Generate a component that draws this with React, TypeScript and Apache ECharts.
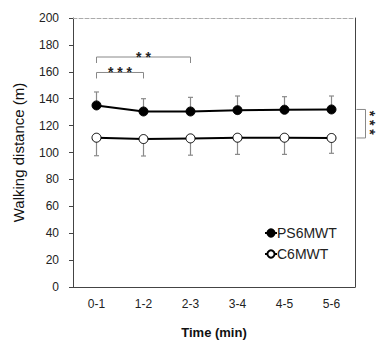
import React, { useEffect, useRef } from "react";
import * as echarts from "echarts";

const categories = ["0-1", "1-2", "2-3", "3-4", "4-5", "5-6"];
const ps6mwt = [135, 130.5, 130.5, 131.5, 131.8, 132];
const ps6mwtUpper = [145, 140, 141, 142, 141.5, 142];
const c6mwt = [111, 110, 110.5, 111, 111, 110.8];
const c6mwtLower = [97.6, 97.4, 98, 98.6, 98.6, 99.4];
// significance brackets: [startIndex, endIndex, yValue, label]
const brackets: [number, number, number, string][] = [
  [0, 1, 159.5, "* * *"],
  [0, 2, 171, "* *"],
];
const sideLabel = "* * *";
const yTicks = { min: 0, max: 200, interval: 20 };

const FONT = "'Liberation Sans', Arial, sans-serif";

export default function App() {
  const ref = useRef<HTMLDivElement>(null);
  useEffect(() => {
    if (!ref.current) return;
    const chart = echarts.init(ref.current, undefined, { renderer: "svg" });
    const errData = [
      ...ps6mwt.map((v, i) => [i, v, ps6mwtUpper[i]]),
      ...c6mwt.map((v, i) => [i, v, c6mwtLower[i]]),
    ];
    const last = categories.length - 1;
    chart.setOption({
      animation: false,
      textStyle: { fontFamily: FONT },
      grid: { left: 73, right: 21, top: 18, bottom: 53, outerBoundsMode: "none", containLabel: false },
      legend: {
        orient: "vertical",
        left: 259,
        top: 221,
        itemWidth: 12,
        itemHeight: 9,
        itemGap: 7,
        textStyle: { fontSize: 14, color: "#222", fontFamily: FONT, padding: [0, 0, 0, -5] },
        data: ["PS6MWT", "C6MWT"],
      },
      xAxis: [
        {
          type: "category",
          data: categories,
          boundaryGap: true,
          axisLine: { onZero: false, lineStyle: { color: "#444", width: 1 } },
          axisTick: { alignWithLabel: true, length: 4, lineStyle: { color: "#444" } },
          axisLabel: { color: "#222", fontSize: 12, margin: 11, fontFamily: FONT },
          name: "Time (min)",
          nameLocation: "middle",
          nameGap: 39,
          nameTextStyle: { fontSize: 13, fontWeight: "bold", color: "#111", fontFamily: FONT },
        },
        {
          type: "category",
          data: categories,
          position: "top",
          axisLine: { show: true, onZero: false, lineStyle: { color: "#aaa", type: "dashed", width: 1 } },
          axisTick: { show: false },
          axisLabel: { show: false },
        },
      ],
      yAxis: [
        {
          type: "value",
          min: yTicks.min,
          max: yTicks.max,
          interval: yTicks.interval,
          axisLine: { show: true, onZero: false, lineStyle: { color: "#444", width: 1 } },
          axisTick: { show: true, length: 4, lineStyle: { color: "#444" } },
          splitLine: { show: false },
          axisLabel: { color: "#222", fontSize: 12, margin: 14, fontFamily: FONT },
          name: "Walking distance (m)",
          nameLocation: "middle",
          nameGap: 47,
          nameTextStyle: { fontSize: 15, color: "#111", fontFamily: FONT },
        },
        {
          type: "value",
          min: yTicks.min,
          max: yTicks.max,
          interval: yTicks.interval,
          position: "right",
          axisLine: { show: true, onZero: false, lineStyle: { color: "#444", width: 1 } },
          axisTick: { show: false },
          axisLabel: { show: false },
          splitLine: { show: false },
        },
      ],
      series: [
        {
          type: "custom",
          name: "err",
          z: 1,
          silent: true,
          data: errData,
          renderItem: (params: any, api: any) => {
            const x = api.value(0);
            const p0 = api.coord([x, api.value(1)]);
            const p1 = api.coord([x, api.value(2)]);
            const style = { stroke: "#8a8a8a", lineWidth: 1.2 };
            return {
              type: "group",
              children: [
                { type: "line", shape: { x1: p0[0], y1: p0[1], x2: p1[0], y2: p1[1] }, style },
                { type: "line", shape: { x1: p1[0] - 2.5, y1: p1[1], x2: p1[0] + 2.5, y2: p1[1] }, style },
              ],
            };
          },
        },
        {
          type: "custom",
          name: "brackets",
          z: 1,
          silent: true,
          data: brackets,
          renderItem: (params: any, api: any) => {
            const a = api.coord([api.value(0), api.value(2)]);
            const b = api.coord([api.value(1), api.value(2)]);
            const label = brackets[params.dataIndex][3];
            const style = { stroke: "#888", lineWidth: 1, fill: "none" };
            return {
              type: "group",
              children: [
                {
                  type: "polyline",
                  shape: { points: [[a[0], a[1] + 6], [a[0], a[1]], [b[0], b[1]], [b[0], b[1] + 6]] },
                  style,
                },
                {
                  type: "text",
                  style: {
                    text: label,
                    x: (a[0] + b[0]) / 2,
                    y: a[1] + 7,
                    align: "center",
                    verticalAlign: "bottom",
                    fontSize: 14,
                    fontWeight: "bold",
                    fontFamily: FONT,
                    fill: "#222",
                  },
                },
              ],
            };
          },
        },
        {
          type: "custom",
          name: "sideBracket",
          z: 1,
          silent: true,
          clip: false,
          data: [[last, ps6mwt[last], c6mwt[last]]],
          renderItem: (params: any, api: any) => {
            const top = api.coord([api.value(0), api.value(1)]);
            const bot = api.coord([api.value(0), api.value(2)]);
            const x0 = top[0] + 25;
            const x1 = x0 + 9;
            const midY = (top[1] + bot[1]) / 2;
            return {
              type: "group",
              children: [
                {
                  type: "polyline",
                  shape: { points: [[x0, top[1]], [x1, top[1]], [x1, bot[1]], [x0, bot[1]]] },
                  style: { stroke: "#888", lineWidth: 1, fill: "none" },
                },
                {
                  type: "text",
                  x: x1 + 4,
                  y: midY - 1,
                  rotation: -Math.PI / 2,
                  style: {
                    text: sideLabel,
                    x: 0,
                    y: 0,
                    align: "center",
                    verticalAlign: "middle",
                    fontSize: 14,
                    fontWeight: "bold",
                    fontFamily: FONT,
                    fill: "#222",
                  },
                },
              ],
            };
          },
        },
        {
          type: "line",
          name: "PS6MWT",
          z: 3,
          data: ps6mwt,
          symbol: "circle",
          symbolSize: 9,
          lineStyle: { color: "#000", width: 2 },
          itemStyle: { color: "#000", borderColor: "#000", borderWidth: 1 },
        },
        {
          type: "line",
          name: "C6MWT",
          z: 3,
          data: c6mwt,
          symbol: "circle",
          symbolSize: 9,
          lineStyle: { color: "#000", width: 2 },
          itemStyle: { color: "#fff", borderColor: "#000", borderWidth: 1 },
        },
      ],
    });
    return () => chart.dispose();
  }, []);
  return (
    <div
      ref={ref}
      style={{ position: "fixed", left: 0, top: 0, width: 376, height: 340, background: "#fff" }}
    />
  );
}
